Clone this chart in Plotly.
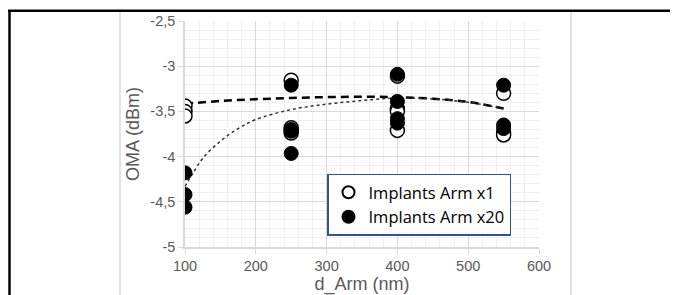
import plotly.graph_objects as go

# --- data ---
x1_x = [100, 100, 100, 250, 250, 250, 250, 400, 400, 400, 400, 550, 550, 550]
x1_y = [-3.44, -3.50, -3.55, -3.155, -3.68, -3.71, -3.74, -3.11, -3.47, -3.50, -3.71, -3.30, -3.74, -3.76]

x20_x = [100, 100, 100, 250, 250, 250, 250, 400, 400, 400, 400, 550, 550, 550]
x20_y = [-4.18, -4.42, -4.56, -3.21, -3.70, -3.72, -3.965, -3.09, -3.39, -3.58, -3.63, -3.21, -3.65, -3.69]

trend_x = [100, 150, 200, 250, 300, 350, 400, 450, 500, 550]
trend1_y = [-3.415, -3.385, -3.365, -3.352, -3.342, -3.338, -3.342, -3.36, -3.395, -3.468]
trend20_x = [100, 110, 125, 150, 175, 200, 250, 300, 350, 400, 450, 500, 550]
trend20_y = [-4.33, -4.20, -4.02, -3.83, -3.69, -3.59, -3.48, -3.42, -3.38, -3.352, -3.362, -3.40, -3.47]

y_ticks = [-5, -4.5, -4, -3.5, -3, -2.5]
y_tick_labels = ["-5", "-4,5", "-4", "-3,5", "-3", "-2,5"]
x_ticks = [100, 200, 300, 400, 500, 600]

fig = go.Figure()

fig.add_trace(go.Scatter(
    x=trend_x, y=trend1_y, mode="lines", line=dict(color="black", width=2.5, dash="8px,5px", shape="spline"),
    showlegend=False, hoverinfo="skip"))
fig.add_trace(go.Scatter(
    x=trend20_x, y=trend20_y, mode="lines", line=dict(color="#333333", width=1.5, dash="dot", shape="spline"),
    showlegend=False, hoverinfo="skip"))

fig.add_trace(go.Scatter(
    x=x1_x, y=x1_y, mode="markers", name="Implants Arm x1",
    marker=dict(size=14, color="white", line=dict(color="black", width=1.5))))
fig.add_trace(go.Scatter(
    x=x20_x, y=x20_y, mode="markers", name="Implants Arm x20",
    marker=dict(size=14, color="black", line=dict(color="black", width=1))))

tick_font = dict(family="Liberation Sans, Arial, sans-serif", size=14.5, color="#595959")
title_font = dict(family="Liberation Sans, Arial, sans-serif", size=18, color="#595959")

fig.update_xaxes(
    range=[100, 600], tickvals=x_ticks, ticks="outside", ticklen=5, tickcolor="#d9d9d9",
    showgrid=True, gridcolor="#d9d9d9", gridwidth=1,
    minor=dict(dtick=20, showgrid=True, gridcolor="#efefef", gridwidth=1),
    showline=True, linecolor="#d9d9d9", linewidth=1.5, zeroline=False,
    tickfont=tick_font, automargin=False,
    title=dict(text="d_Arm (nm)", font=title_font, standoff=4),
)
fig.update_yaxes(
    range=[-5, -2.5], tickvals=y_ticks, ticktext=y_tick_labels, ticks="outside", ticklen=5, tickcolor="#d9d9d9",
    showgrid=True, gridcolor="#d9d9d9", gridwidth=1,
    minor=dict(dtick=0.1, showgrid=True, gridcolor="#efefef", gridwidth=1),
    showline=True, linecolor="#d9d9d9", linewidth=1.5, zeroline=False,
    tickfont=tick_font, automargin=False,
    title=dict(text="OMA (dBm)", font=title_font, standoff=6),
)

# page has an 8px body margin: figure origin sits at page (8, 8)
OFF = 8
# plot area in page pixels: x 185..539, y 20.7..247
L, R, T, B = 185 - OFF, 539 - OFF, 20.7 - OFF, 247 - OFF
W, H = R - L, B - T
def px(xp):
    return (xp - OFF - L) / W
def py(yp):
    return (B - (yp - OFF)) / H

shapes = [
    dict(type="line", xref="paper", yref="paper", x0=px(8), x1=px(700), y0=py(10.5), y1=py(10.5),
         line=dict(color="black", width=2.5)),
    dict(type="line", xref="paper", yref="paper", x0=px(9.5), x1=px(9.5), y0=py(10.5), y1=py(310),
         line=dict(color="black", width=2.5)),
    dict(type="line", xref="paper", yref="paper", x0=px(120), x1=px(120), y0=py(12), y1=py(310),
         line=dict(color="#d9d9d9", width=1.5)),
    dict(type="line", xref="paper", yref="paper", x0=px(571), x1=px(571), y0=py(12), y1=py(310),
         line=dict(color="#d9d9d9", width=1.5)),
]

fig.update_layout(
    width=678, height=295,
    margin=dict(l=L, r=678 - R, t=T, b=295 - B, autoexpand=False),
    paper_bgcolor="white", plot_bgcolor="white",
    shapes=shapes,
    legend=dict(
        x=px(327), y=py(173.5), xanchor="left", yanchor="top",
        bgcolor="white", bordercolor="#2F5597", borderwidth=1.5,
        font=dict(family="Open Sans, sans-serif", size=16.5, color="black"),
        itemsizing="constant", tracegroupgap=0,
    ),
)

fig.write_html("out.html")
